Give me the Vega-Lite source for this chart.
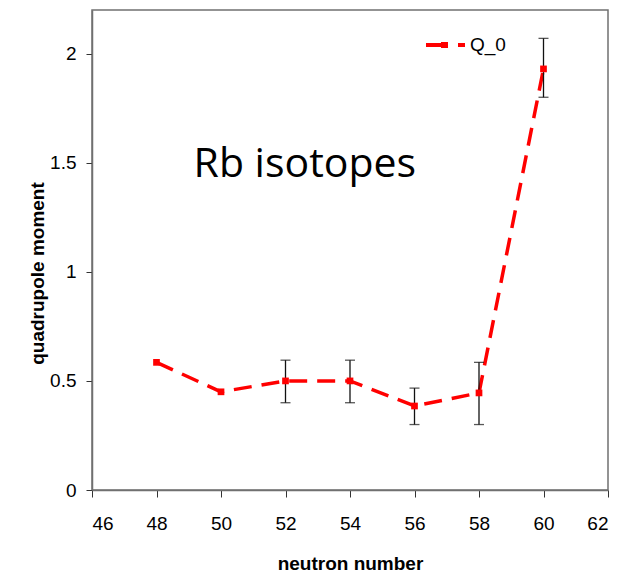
{
  "$schema": "https://vega.github.io/schema/vega-lite/v6.json",
  "width": 516,
  "height": 480,
  "autosize": "none",
  "padding": {"left": 92, "top": 10, "right": 26, "bottom": 90},
  "background": "white",
  "config": {
    "view": {"stroke": "#707070", "strokeWidth": 1.5},
    "axis": {
      "grid": false,
      "domainColor": "#707070",
      "domainWidth": 1.5,
      "tickColor": "#333333",
      "labelFont": "Liberation Sans, Arial, sans-serif",
      "labelFontSize": 19,
      "labelColor": "#000000",
      "titleFont": "Liberation Sans, Arial, sans-serif",
      "titleFontSize": 19,
      "titleFontWeight": "bold",
      "titleColor": "#000000"
    }
  },
  "datasets": {
    "pts": [
      {"n": 48, "q": 0.585, "lo": null, "hi": null, "series": "Q_0"},
      {"n": 50, "q": 0.45, "lo": null, "hi": null, "series": "Q_0"},
      {"n": 52, "q": 0.5, "lo": 0.4, "hi": 0.595, "series": "Q_0"},
      {"n": 54, "q": 0.5, "lo": 0.4, "hi": 0.595, "series": "Q_0"},
      {"n": 56, "q": 0.385, "lo": 0.3, "hi": 0.467, "series": "Q_0"},
      {"n": 58, "q": 0.445, "lo": 0.3, "hi": 0.585, "series": "Q_0"},
      {"n": 60, "q": 1.93, "lo": 1.8, "hi": 2.07, "series": "Q_0"}
    ],
    "lbl": [{"x": 52.6, "y": 1.49, "label": "Rb isotopes"}]
  },
  "layer": [
    {
      "data": {"name": "pts"},
      "mark": {"type": "line", "strokeDash": [18, 10], "strokeWidth": 3.5},
      "encoding": {
        "x": {
          "field": "n", "type": "quantitative",
          "scale": {"domain": [46, 62], "nice": false, "zero": false},
          "axis": {
            "title": "neutron number",
            "values": [46, 48, 50, 52, 54, 56, 58, 60, 62],
            "tickSize": 7, "labelPadding": 17,
            "titleX": 258, "titleY": 73, "titleBaseline": "middle"
          }
        },
        "y": {
          "field": "q", "type": "quantitative",
          "title": "quadrupole moment",
          "scale": {"domain": [0, 2.2], "nice": false},
          "axis": {
            "values": [0, 0.5, 1, 1.5, 2],
            "format": "~g",
            "tickSize": 6, "labelPadding": 10,
            "titleX": -55, "titleY": 263, "titleBaseline": "middle", "titleAngle": -90
          }
        },
        "color": {
          "field": "series", "type": "nominal",
          "scale": {"range": ["#ff0000"]},
          "legend": {
            "title": null,
            "orient": "none",
            "legendX": 334,
            "legendY": 15,
            "symbolType": "M-1,-0.1H-0.25V-0.15H0.1V0.15H-0.25V0.1H-1Z M0.6,-0.1H0.95V0.1H0.6Z",
            "symbolFillColor": "#ff0000",
            "symbolStrokeWidth": 0,
            "symbolSize": 1600,
            "labelFont": "Liberation Sans, Arial, sans-serif",
            "labelFontSize": 19,
            "labelColor": "#000000",
            "labelOffset": 4
          }
        }
      }
    },
    {
      "data": {"name": "pts"},
      "transform": [{"filter": "datum.lo != null"}],
      "mark": {"type": "errorbar", "color": "#111111", "thickness": 1.3, "ticks": {"size": 10, "color": "#111111", "thickness": 1.3}},
      "encoding": {
        "x": {"field": "n", "type": "quantitative"},
        "y": {"field": "lo", "type": "quantitative", "title": "quadrupole moment"},
        "y2": {"field": "hi"}
      }
    },
    {
      "data": {"name": "pts"},
      "mark": {"type": "point", "shape": "square", "filled": true, "size": 45, "color": "#ff0000", "opacity": 1},
      "encoding": {
        "x": {"field": "n", "type": "quantitative"},
        "y": {"field": "q", "type": "quantitative", "title": "quadrupole moment"}
      }
    },
    {
      "data": {"name": "lbl"},
      "mark": {"type": "text", "font": "Open Sans, Liberation Sans, sans-serif", "fontSize": 41, "color": "#000000", "baseline": "middle", "align": "center"},
      "encoding": {
        "x": {"field": "x", "type": "quantitative"},
        "y": {"field": "y", "type": "quantitative"},
        "text": {"field": "label"}
      }
    }
  ]
}
